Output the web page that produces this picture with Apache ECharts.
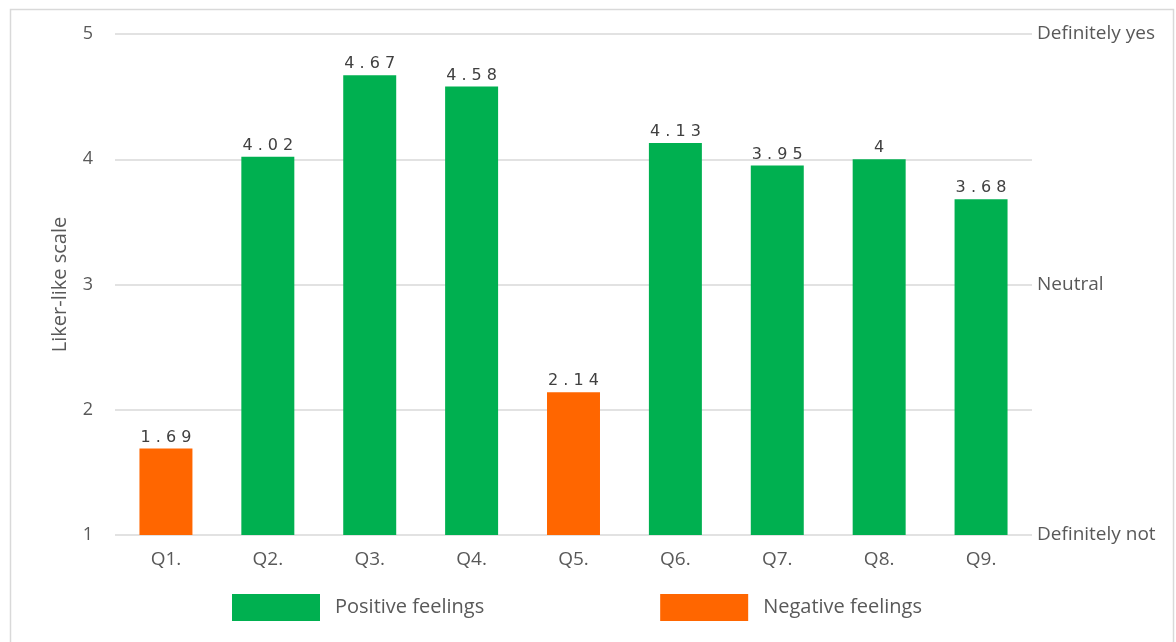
<!DOCTYPE html>
<html>
<head>
<meta charset="utf-8">
<script src="https://cdn.jsdelivr.net/npm/echarts@6/dist/echarts.min.js"></script>
<style>
  html, body { margin: 0; padding: 0; background: #fff; }
  #chart { width: 1176px; height: 642px; }
</style>
</head>
<body>
<div id="chart"></div>
<script>
// Survey questions and their mean scores on a 1–5 scale
const questions = ['Q1.', 'Q2.', 'Q3.', 'Q4.', 'Q5.', 'Q6.', 'Q7.', 'Q8.', 'Q9.'];
const scores = [1.69, 4.02, 4.67, 4.58, 2.14, 4.13, 3.95, 4, 3.68];
// Questions that describe negative feelings
const negativeQuestions = ['Q1.', 'Q5.'];
// Verbal anchors shown on the right-hand scale
const scaleTicks = [1, 2, 3, 4, 5];
const anchorLabels = { 1: 'Definitely not', 3: 'Neutral', 5: 'Definitely yes' };

const GREEN = '#00b050';
const ORANGE = '#ff6600';
const textFont = '"Open Sans", "Noto Sans", sans-serif';

const positiveData = questions.map((q, i) => negativeQuestions.includes(q) ? null : scores[i]);
const negativeData = questions.map((q, i) => negativeQuestions.includes(q) ? scores[i] : null);

// Value labels are spread out character by character, e.g. "4 . 0 2"
const spaced = p => String(p.value).split('').join(' ');

const valueLabel = {
  show: true,
  position: 'top',
  distance: 3,
  formatter: spaced,
  color: '#404040',
  fontSize: 16,
  fontFamily: '"DejaVu Sans", sans-serif'
};

const chart = echarts.init(document.getElementById('chart'));
chart.setOption({
  animation: false,
  backgroundColor: '#fff',
  graphic: [{
    type: 'rect',
    shape: { x: 10.5, y: 9.5, width: 1163, height: 700 },
    style: { fill: 'none', stroke: '#d9d9d9', lineWidth: 1.5 },
    silent: true
  }],
  grid: { left: 115, right: 144, top: 34, bottom: 107 },
  legend: {
    bottom: 16,
    left: 227,
    itemWidth: 88,
    itemHeight: 27,
    itemGap: 176,
    icon: 'rect',
    textStyle: { color: '#595959', fontSize: 20, fontFamily: textFont, padding: [0, 0, 0, 10] },
    data: ['Positive feelings', 'Negative feelings']
  },
  xAxis: {
    type: 'category',
    data: questions,
    axisLine: { show: false },
    axisTick: { show: false },
    axisLabel: { color: '#595959', fontSize: 19, fontFamily: textFont, margin: 15 }
  },
  yAxis: [{
    type: 'value',
    min: 1,
    max: 5,
    interval: 1,
    name: 'Liker-like scale',
    nameLocation: 'middle',
    nameGap: 45,
    nameTextStyle: { color: '#595959', fontSize: 20, fontFamily: textFont },
    axisLine: { show: false },
    axisTick: { show: false },
    axisLabel: { color: '#595959', fontSize: 18, fontFamily: textFont, margin: 22 },
    splitLine: { lineStyle: { color: '#d9d9d9', width: 1.5 } }
  }, {
    type: 'value',
    position: 'right',
    min: 1,
    max: 5,
    interval: 1,
    axisLine: { show: false },
    axisTick: { show: false },
    splitLine: { show: false },
    axisLabel: {
      color: '#595959',
      fontSize: 19,
      fontFamily: textFont,
      margin: 5,
      formatter: v => scaleTicks.includes(v) && anchorLabels[v] ? anchorLabels[v] : ''
    }
  }],
  series: [{
    name: 'Positive feelings',
    type: 'bar',
    data: positiveData,
    barWidth: '52%',
    barGap: '-100%',
    itemStyle: { color: GREEN },
    label: valueLabel
  }, {
    name: 'Negative feelings',
    type: 'bar',
    data: negativeData,
    barWidth: '52%',
    barGap: '-100%',
    itemStyle: { color: ORANGE },
    label: valueLabel
  }]
});
</script>
</body>
</html>
